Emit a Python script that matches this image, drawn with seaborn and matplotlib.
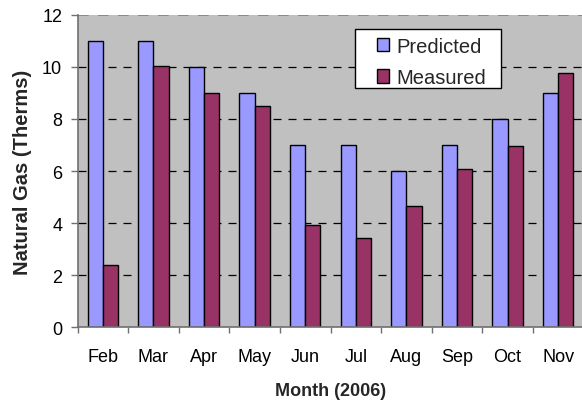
import numpy as np
import pandas as pd
import seaborn as sns
import matplotlib
matplotlib.use("Agg")
import matplotlib.pyplot as plt
from matplotlib.patches import Rectangle

# Monthly natural gas usage, 2006
months = ["Feb", "Mar", "Apr", "May", "Jun", "Jul", "Aug", "Sep", "Oct", "Nov"]
predicted = [11, 11, 10, 9, 7, 7, 6, 7, 8, 9]
measured = [2.4, 10.05, 9.0, 8.48, 3.93, 3.43, 4.67, 6.07, 6.97, 9.75]
series = ["Predicted", "Measured"]
colors = ["#9999FF", "#993366"]
y_ticks = [0, 2, 4, 6, 8, 10, 12]

df = pd.DataFrame({
    "Month": months * 2,
    "Therms": predicted + measured,
    "Series": [series[0]] * len(months) + [series[1]] * len(months),
})

sns.set_theme(style="white")
plt.rcParams["font.family"] = ["Liberation Sans", "DejaVu Sans"]

fig = plt.figure(figsize=(5.82, 4.02), dpi=100)
ax = fig.add_axes([0.1332, 0.1833, 0.8694, 0.7776])

sns.barplot(data=df, x="Month", y="Therms", hue="Series", order=months,
            hue_order=series, palette=colors, width=0.6, gap=0,
            edgecolor="black", linewidth=1.0, saturation=1, ax=ax)

ax.set_facecolor("#C0C0C0")
ax.set_ylim(0, 12)
ax.set_xlim(-0.5, len(months) - 0.5)
ax.set_axisbelow(True)

# dashed horizontal gridlines
for v in y_ticks[1:-1]:
    ax.axhline(v, color="black", linewidth=0.9, linestyle=(0, (6.4, 5.6)), zorder=0.5)
ax.axhline(12, color="#808080", linewidth=1.2, linestyle=(0, (6.4, 5.6)), zorder=0.5)

for s in ["top", "right"]:
    ax.spines[s].set_visible(False)
for s in ["left", "bottom"]:
    ax.spines[s].set_color("#707070")
    ax.spines[s].set_linewidth(1.2)

ax.set_yticks(y_ticks)
ax.set_yticklabels([str(v) for v in y_ticks])
ax.tick_params(axis="y", which="major", direction="out", length=5, width=1,
               color="#707070", pad=6, labelsize=13, labelcolor="black", left=True)

ax.set_xticks(np.arange(len(months)))
ax.set_xticklabels(months)
ax.set_xticks(np.arange(len(months)) - 0.5, minor=True)
ax.tick_params(axis="x", which="major", length=0, pad=15, labelsize=13,
               labelcolor="black", bottom=True)
ax.tick_params(axis="x", which="minor", direction="out", length=4, width=1,
               color="#707070", bottom=True)

ax.set_xlabel("Month (2006)", fontsize=13, fontweight="bold", labelpad=12)
ax.set_ylabel("Natural Gas (Therms)", fontsize=14.5, fontweight="bold", labelpad=7)

# legend box with fixed size, entries placed inside
ax.add_patch(Rectangle((0.549, 0.7646), 0.2885, 0.1907, transform=ax.transAxes,
                       facecolor="white", edgecolor="black", linewidth=1.0,
                       zorder=4, clip_on=False))
leg = ax.legend(loc="upper left", bbox_to_anchor=(0.5913, 0.93), fontsize=14.5,
                frameon=False, handlelength=0.63, handleheight=0.63,
                handletextpad=0.35, labelspacing=0.62, borderpad=0,
                borderaxespad=0)
leg.set_zorder(5)
leg.set_title(None)

fig.savefig("out.png", dpi=100, facecolor="white")
